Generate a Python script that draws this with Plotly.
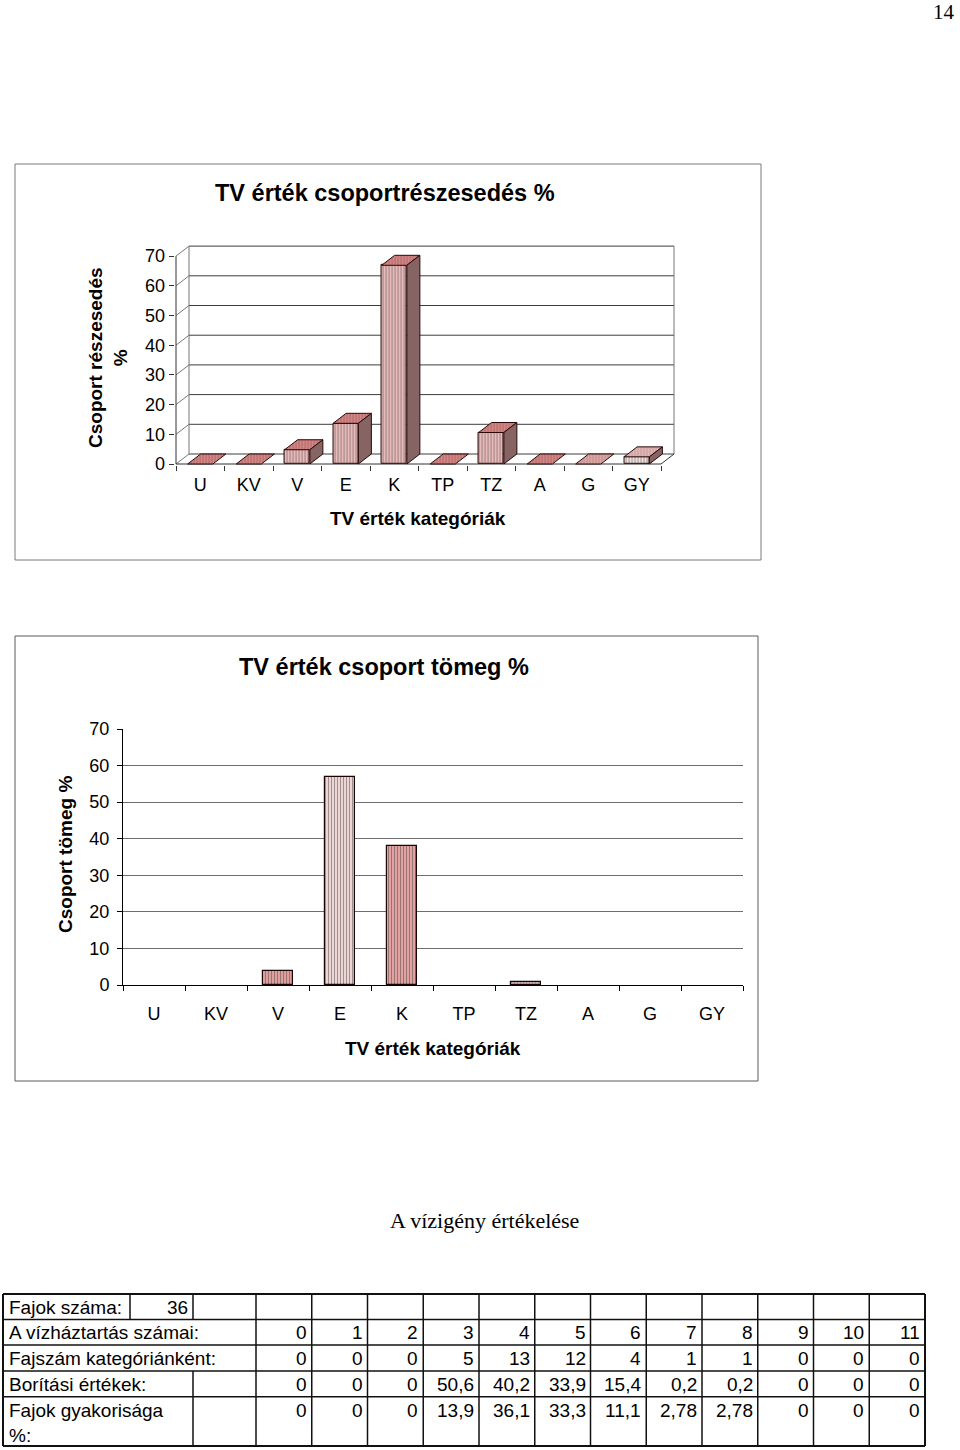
import plotly.graph_objects as go

W, H = 960, 1450

# ---------------- data ----------------
categories = ["U", "KV", "V", "E", "K", "TP", "TZ", "A", "G", "GY"]
reszesedes_values = [0, 0, 4.8, 13.7, 66.9, 0, 10.6, 0, 0, 2.4]
tomeg_values = [0, 0, 3.7, 57.0, 38.0, 0, 0.8, 0, 0, 0]
y_ticks = [0, 10, 20, 30, 40, 50, 60, 70]

fajok_label = "Fajok száma:"
fajok_szama = 36
row_labels = ["A vízháztartás számai:", "Fajszám kategóriánként:",
              "Borítási értékek:", "Fajok gyakorisága<br>%:"]
vizhaztartas = [0, 1, 2, 3, 4, 5, 6, 7, 8, 9, 10, 11]
fajszam = [0, 0, 0, 5, 13, 12, 4, 1, 1, 0, 0, 0]
boritas = [0, 0, 0, 50.6, 40.2, 33.9, 15.4, 0.2, 0.2, 0, 0, 0]
gyakorisag = [0, 0, 0, 13.9, 36.1, 33.3, 11.1, 2.78, 2.78, 0, 0, 0]

SANS = "Liberation Sans, Arial, sans-serif"
SERIF = "Liberation Serif, Times New Roman, serif"


def px(x):
    return x / W


def py(y):
    return 1 - y / H


fig = go.Figure()
shapes = []
annotations = []

# ---------------- chart 1 (pseudo 3D columns) ----------------
ppu_x1 = 48.5
ppu_y1 = 2.97
dx1 = 13 / ppu_x1          # depth in x units
dy1 = 10 / ppu_y1          # depth in y units
front_left_px = 176
zero_px = 464
xr1 = [-0.53, 9.5 + dx1 + 0.03]
yr1 = [-0.4, 73.8]
x1_dom = [px(front_left_px + (xr1[0] + 0.5) * ppu_x1),
          px(front_left_px + (xr1[1] + 0.5) * ppu_x1)]
y1_dom = [py(zero_px - yr1[0] * ppu_y1), py(zero_px - yr1[1] * ppu_y1)]
bw1 = 0.52
n = len(categories)
xs = list(range(n))

front_bg = ["#f0c0c0"] * n
front_fg = ["#c06a6a"] * n
top_bg = ["#d28a8a"] * n
top_fg = ["#9c4242"] * n
front_bg[9], front_fg[9] = "#f8e8e8", "#d8b0b0"
top_bg[9], top_fg[9] = "#e2b8b8", "#b88080"
top_bg[8], top_fg[8] = "#dcaaaa", "#aa6c6c"
edge = "#2a0808"

fig.add_trace(go.Bar(
    x=xs, y=reszesedes_values, width=bw1, xaxis="x", yaxis="y",
    marker=dict(color=front_bg,
                pattern=dict(shape="|", fillmode="overlay", fgcolor=front_fg,
                             size=3, solidity=0.4),
                line=dict(color=edge, width=[1 if v > 0 else 0 for v in reszesedes_values])),
    hoverinfo="skip"))

for i, v in enumerate(reszesedes_values):
    l, r = i - bw1 / 2, i + bw1 / 2
    # top face
    fig.add_trace(go.Scatter(
        x=[l, l + dx1, r + dx1, r, l], y=[v, v + dy1, v + dy1, v, v],
        mode="lines", fill="toself", fillcolor=top_bg[i],
        fillpattern=dict(shape="|", fillmode="overlay", fgcolor=top_fg[i],
                         size=3, solidity=0.4),
        line=dict(color=edge, width=1), xaxis="x", yaxis="y",
        hoverinfo="skip"))
    if v > 0:
        fig.add_trace(go.Scatter(
            x=[r, r + dx1, r + dx1, r, r], y=[0, dy1, v + dy1, v, 0],
            mode="lines", fill="toself", fillcolor="#876464",
            line=dict(color=edge, width=1), xaxis="x", yaxis="y",
            hoverinfo="skip"))

grid1 = "#3c3c3c"
back_left = -0.5 + dx1
back_right = 9.5 + dx1
for t in y_ticks:
    shapes.append(dict(type="line", xref="x", yref="y", x0=back_left, x1=back_right,
                       y0=t + dy1, y1=t + dy1, line=dict(color=grid1, width=1), layer="below"))
    shapes.append(dict(type="line", xref="x", yref="y", x0=-0.5, x1=back_left,
                       y0=t, y1=t + dy1, line=dict(color="#777777", width=1), layer="below"))
shapes += [
    dict(type="line", xref="x", yref="y", x0=back_left, x1=back_left, y0=dy1, y1=70 + dy1,
         line=dict(color="#777777", width=1), layer="below"),
    dict(type="line", xref="x", yref="y", x0=back_right, x1=back_right, y0=dy1, y1=70 + dy1,
         line=dict(color="#777777", width=1), layer="below"),
    dict(type="line", xref="x", yref="y", x0=-0.5, x1=9.5, y0=0, y1=0,
         line=dict(color="#333333", width=1), layer="below"),
    dict(type="line", xref="x", yref="y", x0=9.5, x1=back_right, y0=0, y1=dy1,
         line=dict(color="#333333", width=1), layer="below"),
    dict(type="line", xref="x", yref="y", x0=-0.5, x1=-0.5, y0=0, y1=70,
         line=dict(color="#333333", width=1), layer="below"),
]

# ---------------- chart 2 ----------------
bw2 = 0.48
c2_bg = ["#eaa8a8", "#eaa8a8", "#e8a4a4", "#f6dcdc", "#eaa6a6", "#eaa8a8", "#f2d0d0", "#eaa8a8", "#eaa8a8", "#eaa8a8"]
c2_fg = ["#b45656", "#b45656", "#b05050", "#dca0a0", "#bc5c5c", "#b45656", "#5a1818", "#b45656", "#b45656", "#b45656"]
c2_shape = ["|", "|", "|", "|", "|", "|", ".", "|", "|", "|"]
fig.add_trace(go.Bar(
    x=xs, y=tomeg_values, width=bw2, xaxis="x2", yaxis="y2",
    marker=dict(color=c2_bg,
                pattern=dict(shape=c2_shape, fillmode="overlay", fgcolor=c2_fg,
                             size=3, solidity=0.4),
                line=dict(color="#1a0505", width=[1.2 if v > 0 else 0 for v in tomeg_values])),
    hoverinfo="skip"))

# ---------------- chart borders ----------------
shapes.append(dict(type="rect", xref="paper", yref="paper", x0=px(15), x1=px(761),
                   y0=py(560), y1=py(164), line=dict(color="#7a7a7a", width=1)))
shapes.append(dict(type="rect", xref="paper", yref="paper", x0=px(15), x1=px(758),
                   y0=py(1081), y1=py(636), line=dict(color="#5a5a5a", width=1)))


def ann(text, x, y, size, family=SANS, angle=0, xanchor="center", align="center", yanchor="middle"):
    annotations.append(dict(text=text, x=px(x), y=py(y), xref="paper", yref="paper",
                            showarrow=False, textangle=angle, xanchor=xanchor,
                            yanchor=yanchor, align=align,
                            font=dict(size=size, family=family, color="black")))


ann("<b>TV érték csoportrészesedés %</b>", 385, 193, 23.5)
ann("<b>TV érték kategóriák</b>", 418, 518, 19)
ann("<b>Csoport részesedés<br>%</b>", 108, 358, 19, angle=-90)
ann("<b>TV érték csoport tömeg %</b>", 384, 667, 23.5)
ann("<b>TV érték kategóriák</b>", 433, 1048, 19)
ann("<b>Csoport tömeg %</b>", 66, 855, 19, angle=-90)
ann("A vízigény értékelése", 484, 1220, 22, family=SERIF)
ann("14", 957, 12, 21, family=SERIF, xanchor="right")

# ---------------- table ----------------
tx0, tx1 = 3, 925
col0 = 256
colw = (tx1 - col0) / 12
row_y = [1294, 1319.5, 1345, 1371, 1396.7, 1446]
tline = "#111111"
for k, yv in enumerate(row_y):
    shapes.append(dict(type="line", xref="paper", yref="paper", x0=px(tx0), x1=px(tx1),
                       y0=py(yv), y1=py(yv),
                       line=dict(color=tline, width=2 if k in (0, len(row_y) - 1) else 1.5)))
for xv, w in [(tx0, 2), (tx1, 2)]:
    shapes.append(dict(type="line", xref="paper", yref="paper", x0=px(xv), x1=px(xv),
                       y0=py(row_y[0]), y1=py(row_y[-1]), line=dict(color=tline, width=w)))
for k in range(12):
    xv = col0 + k * colw
    shapes.append(dict(type="line", xref="paper", yref="paper", x0=px(xv), x1=px(xv),
                       y0=py(row_y[0]), y1=py(row_y[-1]), line=dict(color=tline, width=1.5)))
shapes.append(dict(type="line", xref="paper", yref="paper", x0=px(130), x1=px(130),
                   y0=py(row_y[0]), y1=py(row_y[1]), line=dict(color=tline, width=1.5)))
shapes.append(dict(type="line", xref="paper", yref="paper", x0=px(193), x1=px(193),
                   y0=py(row_y[0]), y1=py(row_y[1]), line=dict(color=tline, width=1.5)))
shapes.append(dict(type="line", xref="paper", yref="paper", x0=px(193), x1=px(193),
                   y0=py(row_y[3]), y1=py(row_y[5]), line=dict(color=tline, width=1.5)))


def fmt(v):
    return str(v).replace(".", ",")


TF = 19
ann(fajok_label, 7, 1307, TF, xanchor="left")
ann(str(fajok_szama), 190, 1307, TF, xanchor="right")
row_centers = [1332.5, 1358, 1384, 1410]
for r, (lab, vals) in enumerate(zip(row_labels, [vizhaztartas, fajszam, boritas, gyakorisag])):
    if r < 3:
        ann(lab, 7, row_centers[r], TF, xanchor="left", align="left")
    else:
        ann(lab, 7, 1398, TF, xanchor="left", align="left", yanchor="top")
    for k, v in enumerate(vals):
        ann(fmt(v), col0 + (k + 1) * colw - 3, row_centers[r], TF, xanchor="right")

# ---------------- layout ----------------
tickfont = dict(size=18, family=SANS, color="black")
fig.update_layout(
    width=W, height=H, margin=dict(l=0, r=0, t=0, b=0, pad=0, autoexpand=False),
    paper_bgcolor="white", plot_bgcolor="rgba(0,0,0,0)",
    showlegend=False, bargap=0, font=dict(family=SANS),
    shapes=shapes, annotations=annotations,
    xaxis=dict(domain=x1_dom, range=xr1, tickmode="array", tickvals=xs, ticktext=categories,
               showgrid=False, zeroline=False, showline=False, ticks="",
               tickfont=tickfont, ticklabelstandoff=7, automargin=False,
               minor=dict(tickmode="array", tickvals=[i - 0.5 for i in range(n + 1)],
                          ticks="outside", ticklen=5, tickcolor="#333333", showgrid=False),
               fixedrange=True),
    yaxis=dict(domain=y1_dom, range=yr1, tickmode="array", tickvals=y_ticks,
               showgrid=False, zeroline=False, showline=False, ticks="outside", automargin=False,
               ticklen=5, tickcolor="#333333", tickfont=tickfont, fixedrange=True),
    xaxis2=dict(domain=[px(123), px(743)], range=[-0.5, 9.5], anchor="y2",
                tickmode="array", tickvals=xs, ticktext=categories, automargin=False,
                showgrid=False, zeroline=False, showline=True, linecolor="black",
                linewidth=1, ticks="", tickfont=tickfont, ticklabelstandoff=12,
                minor=dict(tickmode="array", tickvals=[i - 0.5 for i in range(n + 1)],
                           ticks="outside", ticklen=5, tickcolor="black", showgrid=False),
                fixedrange=True),
    yaxis2=dict(domain=[py(985), py(729)], range=[0, 70], anchor="x2", automargin=False,
                tickmode="array", tickvals=y_ticks, showgrid=True, gridcolor="#6e6e6e",
                gridwidth=1, zeroline=False, showline=True, linecolor="black", linewidth=1,
                ticks="outside", ticklen=5, tickcolor="black", tickfont=tickfont,
                ticklabelstandoff=4, fixedrange=True),
)

fig.write_html("out.html", config={"displayModeBar": False},
               post_script="document.body.style.margin='0';document.body.style.overflow='hidden';")
